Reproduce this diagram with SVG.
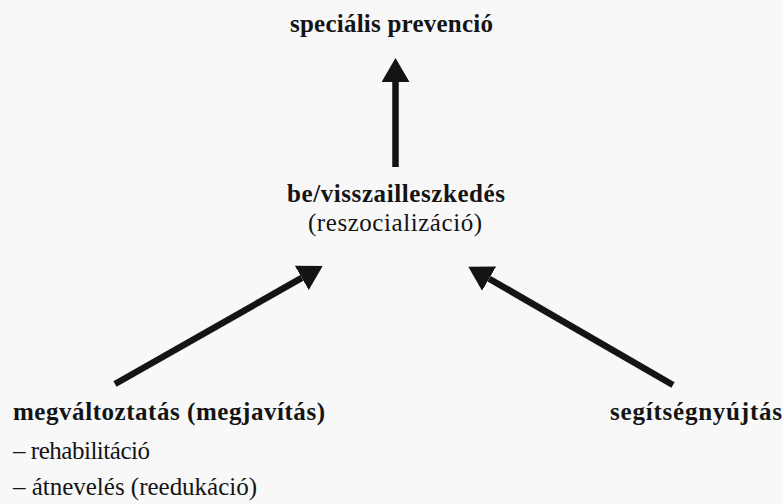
<svg xmlns="http://www.w3.org/2000/svg" width="783" height="504" viewBox="0 0 783 504">
  <defs>
    <style>
      .bg { fill: #f8f8f9; }
      .t { font-family: 'Liberation Serif', 'DejaVu Serif', 'Times New Roman', Times, serif; font-size: 25px; fill: #141414; }
      .b { font-weight: bold; }
      .mid { text-anchor: middle; }
      .conn { stroke: #141414; stroke-width: 6.5; fill: none; marker-end: url(#head); }
    </style>
    <marker id="head" markerUnits="userSpaceOnUse" markerWidth="24" markerHeight="28" refX="0" refY="14" orient="auto" viewBox="0 0 24 28">
      <path d="M0,0 L24,14 L0,28 Z" fill="#141414"/>
    </marker>
  </defs>
  <rect class="bg" x="0" y="0" width="783" height="504"/>

  <g id="connectors">
    <line class="conn" x1="395.5" y1="167" x2="395.5" y2="82"/>
    <line class="conn" x1="115" y1="384" x2="301.8" y2="277.9"/>
    <line class="conn" x1="673" y1="385" x2="489.1" y2="278.7"/>
  </g>

  <g id="node-specialis">
    <text class="t b mid" font-family="Liberation Serif, serif" x="391.5" y="32" textLength="203">speciális prevenció</text>
  </g>

  <g id="node-beilleszkedes">
    <text class="t b mid" x="396" y="201.5" textLength="218">be/visszailleszkedés</text>
    <text class="t mid" x="395" y="231" textLength="174">(reszocializáció)</text>
  </g>

  <g id="node-megvaltoztatas">
    <text class="t b" x="13" y="420" textLength="312">megváltoztatás (megjavítás)</text>
    <text class="t" x="13" y="458.5" textLength="137">– rehabilitáció</text>
    <text class="t" x="13" y="495" textLength="244">– átnevelés (reedukáció)</text>
  </g>

  <g id="node-segitsegnyujtas">
    <text class="t b" x="610" y="420" textLength="172">segítségnyújtás</text>
  </g>
</svg>
